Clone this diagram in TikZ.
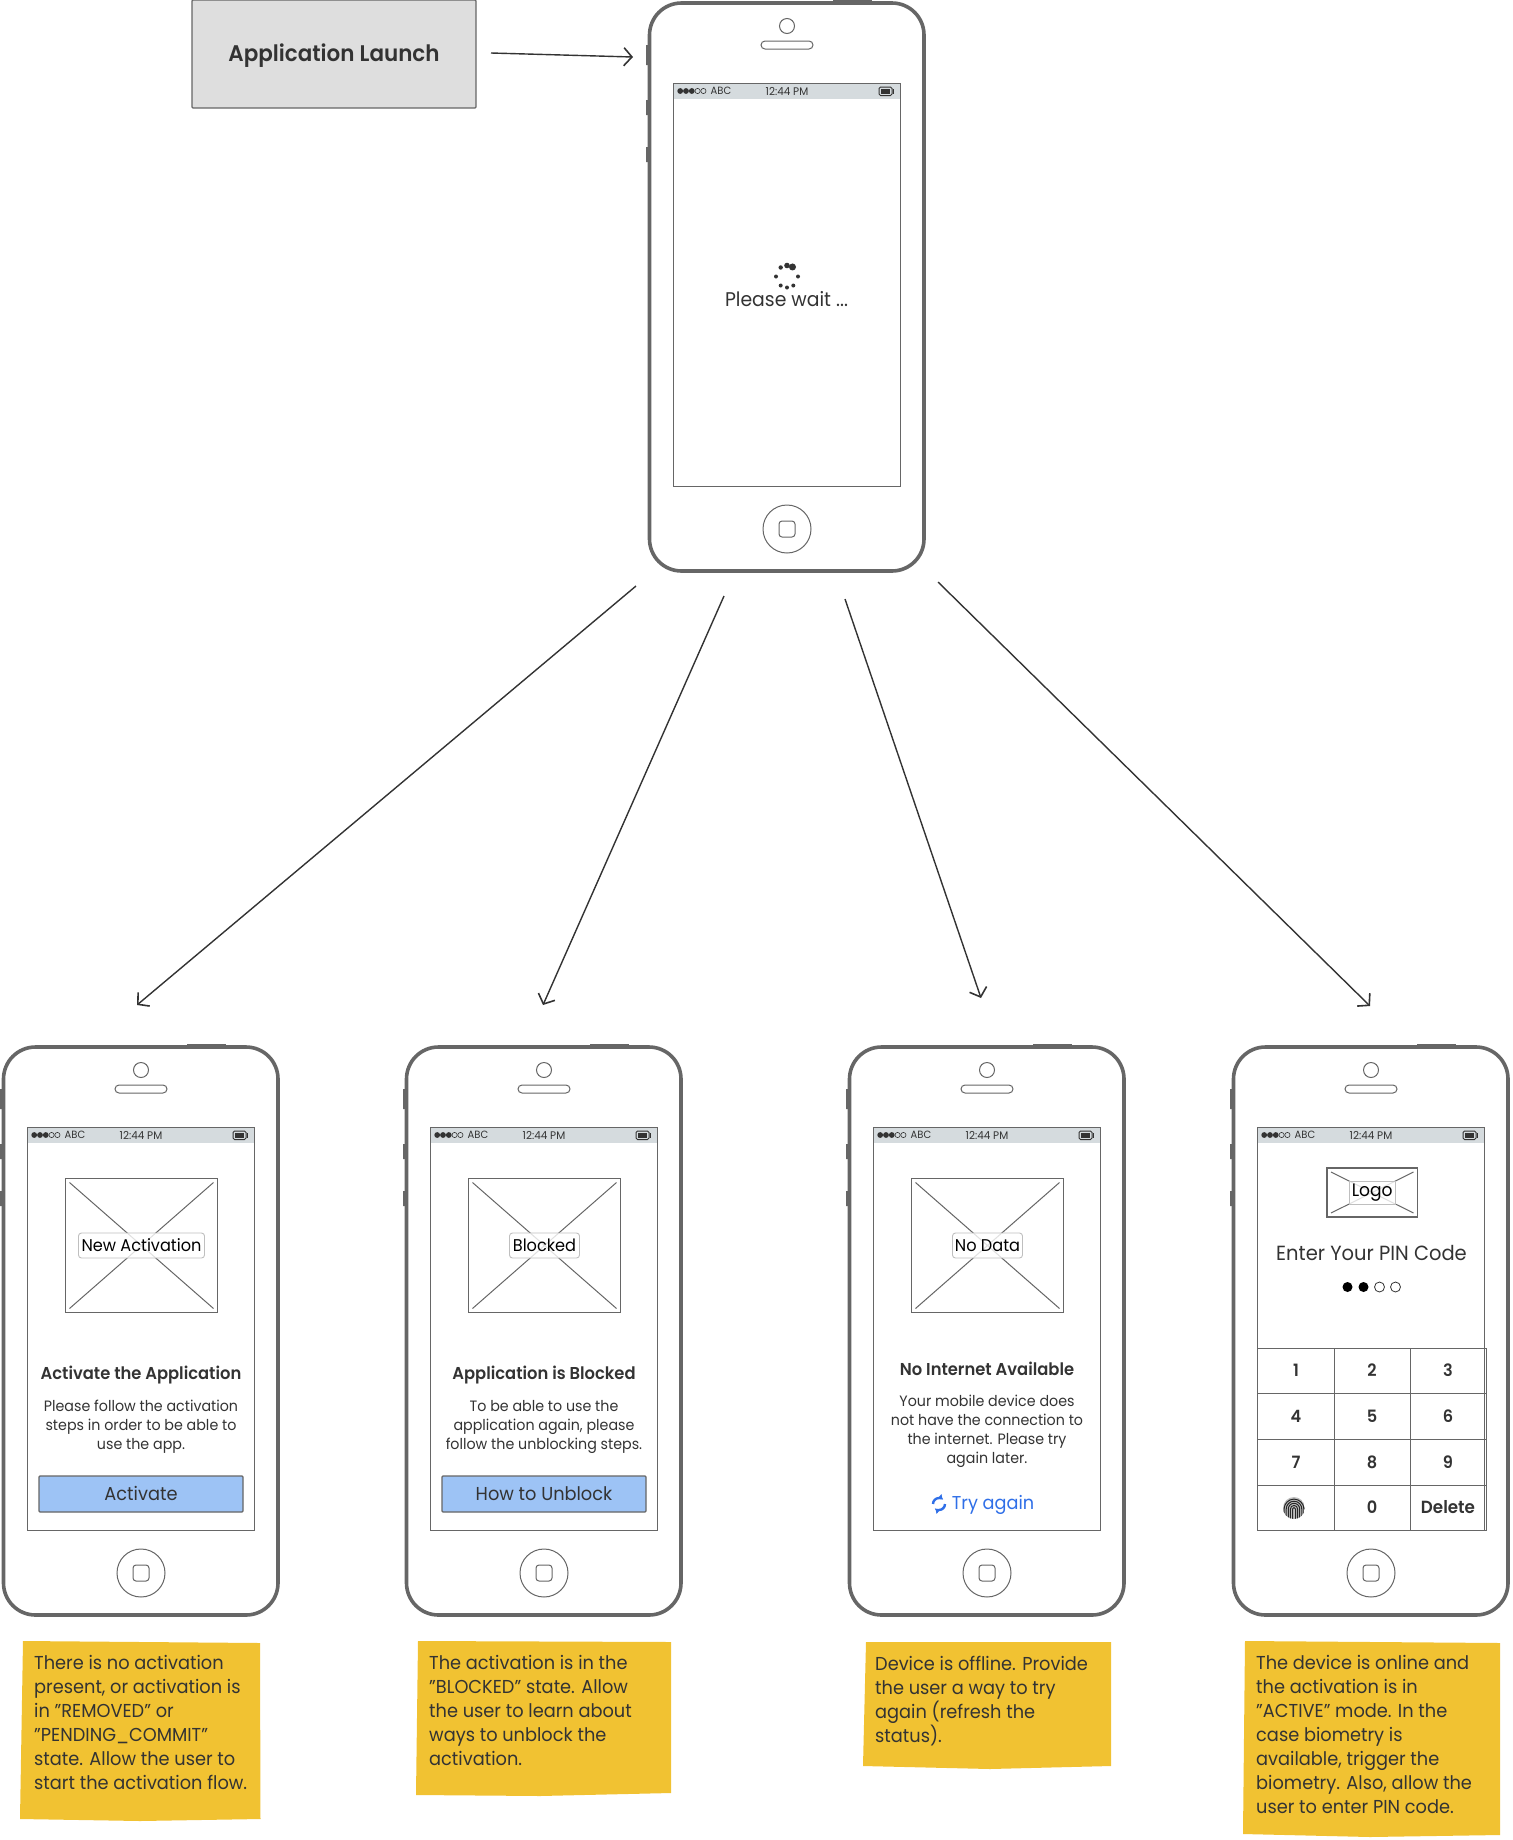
\documentclass[tikz,border=0pt]{standalone}
\usepackage{fontspec}
\setmainfont{Poppins}[FakeStretch=0.95,BoldFont={Poppins SemiBold},BoldFeatures={FakeStretch=0.95}]
\usetikzlibrary{arrows.meta}
\definecolor{frame}{HTML}{666666}
\definecolor{ink}{HTML}{333333}
\definecolor{statusbar}{HTML}{D5DBDE}
\definecolor{btnblue}{HTML}{9DC3F5}
\definecolor{sticky}{HTML}{F1C232}
\definecolor{linkblue}{HTML}{2F6FE8}
\newcommand{\fs}[2]{\fontsize{#1}{#2}\selectfont}
\tikzset{
  x=1pt,y=-1pt,
  phonebody/.style={draw=frame,line width=3.6pt,fill=white,rounded corners=32pt},
  thin line/.style={draw=frame,line width=1pt},
  flow/.style={draw=ink,line width=1.4pt,-{Straight Barb[length=8pt,width=18pt,line width=1.6pt]}},
  status/.style={text=ink,font=\fs{10.5}{12},inner sep=0pt},
  heading/.style={text=ink,font=\bfseries\fs{17.2}{19},inner sep=0pt,align=center},
  bodytext/.style={text=ink,font=\fs{15}{19},inner sep=0pt,align=center},
  notetext/.style={text=ink,font=\fs{18.7}{24},inner sep=0pt,align=left,anchor=north west},
  stickynote/.style={fill=sticky},
  phlabel/.style={fill=white,fill opacity=.8,text opacity=1,draw=black!25,line width=.9pt,rounded corners=3pt,text=black,font=\fs{17}{20},inner sep=0pt,minimum height=25pt},
  keytext/.style={text=ink,font=\bfseries\fs{17}{19},inner sep=0pt},
}
% phone: #1 name, #2 left, #3 top
\newcommand{\phone}[3]{%
  \begin{scope}[shift={(#2,#3)}]
    \fill[frame] (-3,42) rectangle (0,62) (-3,97) rectangle (0,112) (-3,144) rectangle (0,159);
    \fill[frame] (184,-3) rectangle (223,0);
    \path[phonebody] (0.5,0) rectangle (275,568);
    \draw[thin line] (138,23) circle (7.5);
    \draw[thin line,rounded corners=4pt] (112,38) rectangle (164,46);
    \fill[statusbar] (24.5,80) rectangle (251,96);
    \draw[thin line] (24.5,80) rectangle (251,483);
    \foreach \i in {0,1,2} \fill[ink] (31.2+\i*5.8,88) circle (2.9);
    \foreach \i in {3,4} \draw[ink,line width=.6pt] (31.2+\i*5.8,88) circle (2.6);
    \node[status] (#1abc) at (72,88) {ABC};
    \node[status,font=\fs{11}{12}] (#1time) at (138,88) {12:44 PM};
    \draw[ink,line width=1pt,rounded corners=1.5pt] (230,84) rectangle (243,92.5);
    \fill[ink] (231.8,85.6) rectangle (241.2,90.9);
    \draw[ink,line width=1pt] (244.5,86) -- (244.5,90.5);
    \draw[thin line] (138,526) circle (24);
    \draw[thin line,rounded corners=3pt] (130,518) rectangle (146,534);
  \end{scope}}
% image placeholder with label: #1 name, #2 left, #3 top, #4 right, #5 bottom, #6 label, #7 label style
\newcommand{\placeholder}[7]{%
  \draw[thin line,line width=1.1pt] (#2,#3) rectangle (#4,#5);
  \draw[thin line] (#2+4,#3+4) -- (#4-4,#5-4) (#4-4,#3+4) -- (#2+4,#5-4);
  \node[phlabel,#7] (#1) at ({(#2+#4)/2},{(#3+#5)/2}) {#6};}
\begin{document}
\begin{tikzpicture}
\useasboundingbox (0,0) rectangle (1513,1840);

% launch box
\node[draw=frame,line width=1.2pt,fill=black!13,rounded corners=1pt,minimum width=284pt,minimum height=108pt,inner sep=0pt] (launch) at (334,54) {};
\node[text=ink,font=\bfseries\fs{22.6}{24},inner sep=0pt] (launchtext) at (334,56) {Application Launch};

% phones
\phone{main}{649}{3}
\phone{pa}{3}{1047}
\phone{pb}{406}{1047}
\phone{pc}{849}{1047}
\phone{pd}{1233}{1047}

% spinner
\foreach \a/\r in {-60/3.5,-90/2.8,-125/2.2,-180/2,125/2,90/2,55/2,0/2}
  \fill[ink] (787,276.5) ++({\a}:11) circle (\r);
\node[text=ink,font=\fs{19.8}{22},inner sep=0pt] (wait) at (786.5,299) {Please wait ...};

% phone A
\placeholder{labA}{65.5}{1178.5}{217.5}{1312.5}{New Activation}{minimum width=126pt}
\node[heading] (titleA) at (141,1375.5) {Activate the Application};
\node[bodytext] (bodyA) at (141,1427) {Please follow the activation\\steps in order to be able to\\use the app.};
\node[draw=frame,line width=1.1pt,fill=btnblue,rounded corners=1pt,minimum width=204pt,minimum height=36pt,inner sep=0pt] (btnA) at (141,1494) {};
\node[text=ink,font=\fs{18.7}{22},inner sep=0pt] (btnAtext) at (141,1493) {Activate};

% phone B
\placeholder{labB}{468.5}{1178.5}{620.5}{1312.5}{Blocked}{minimum width=70pt}
\node[heading] (titleB) at (544,1375.5) {Application is Blocked};
\node[bodytext] (bodyB) at (544,1427) {To be able to use the\\application again, please\\follow the unblocking steps.};
\node[draw=frame,line width=1.1pt,fill=btnblue,rounded corners=1pt,minimum width=204pt,minimum height=36pt,inner sep=0pt,text=ink,font=\fs{18.7}{22}] (btnB) at (544,1494) {How to Unblock};

% phone C
\placeholder{labC}{911.5}{1178.5}{1063.5}{1312.5}{No Data}{minimum width=70pt}
\node[heading] (titleC) at (987,1369) {No Internet Available};
\node[bodytext] (bodyC) at (987,1431) {Your mobile device does\\not have the connection to\\the internet. Please try\\again later.};
\node[text=linkblue,font=\fs{18.6}{22},inner sep=0pt] (tryC) at (993,1505) {Try again};
\draw[linkblue,line width=2.4pt,-{Latex[length=4.5pt,width=7pt]}] (933,1504) arc (180:310:6);
\draw[linkblue,line width=2.4pt,-{Latex[length=4.5pt,width=7pt]}] (945,1504) arc (0:130:6);

% phone D
\placeholder{labD}{1327}{1168}{1417.5}{1217}{Logo}{minimum width=46pt,minimum height=23pt,rounded corners=0pt,font=\fs{18}{20}}
\node[text=ink,font=\fs{20.5}{22},inner sep=0pt] (pin) at (1371.5,1253) {Enter Your PIN Code};
\fill[black] (1347.5,1287) circle (5) (1363.5,1287) circle (5);
\draw[ink,line width=.8pt] (1379.5,1287) circle (5) (1395.5,1287) circle (5);
\draw[thin line] (1258,1348) -- (1486,1348) -- (1486,1530) -- (1258,1530)
  (1258,1393) -- (1486,1393) (1258,1439) -- (1486,1439) (1258,1485) -- (1486,1485)
  (1334,1348) -- (1334,1530) (1410,1348) -- (1410,1530);
\node[keytext] (k1) at (1296,1370) {1};
\node[keytext] (k2) at (1372,1370) {2};
\node[keytext] (k3) at (1448,1370) {3};
\node[keytext] (k4) at (1296,1416) {4};
\node[keytext] (k5) at (1372,1416) {5};
\node[keytext] (k6) at (1448,1416) {6};
\node[keytext] (k7) at (1296,1462) {7};
\node[keytext] (k8) at (1372,1462) {8};
\node[keytext] (k9) at (1448,1462) {9};
\node[keytext] (k0) at (1372,1507) {0};
\node[keytext,font=\bfseries\fs{17.6}{19}] (kdel) at (1448,1507) {Delete};
% fingerprint
\begin{scope}[shift={(1294,1508)}]
  \clip (0,0) circle (11);
  \fill[black!25] (0,0) circle (11);
  \foreach \r in {1.5,3.6,5.7,7.8,9.9}
    \draw[black!85,line width=1pt] (-\r,11) -- (-\r,1) arc (180:360:\r) -- (\r,11);
\end{scope}

% sticky notes
\fill[stickynote] (23,1641) -- (260,1643) -- (260.5,1819) -- (140,1821) -- (20,1819) -- cycle;
\node[notetext] (noteA) at (34,1655.5) {There is no activation\\present, or activation is\\in "REMOVED" or\\"PENDING\_COMMIT"\\state. Allow the user to\\start the activation flow.};
\fill[stickynote] (418,1641) -- (671,1642) -- (671,1793) -- (540,1796) -- (416,1795) -- cycle;
\node[notetext] (noteB) at (429,1655.5) {The activation is in the\\"BLOCKED" state. Allow\\the user to learn about\\ways to unblock the\\activation.};
\fill[stickynote] (866,1642) -- (1111,1642) -- (1111,1766) -- (990,1769) -- (863,1766) -- cycle;
\node[notetext] (noteC) at (875,1655.5) {Device is offline. Provide\\the user a way to try\\again (refresh the\\status).};
\fill[stickynote] (1245,1641) -- (1500,1643) -- (1500,1835) -- (1370,1837) -- (1243,1834) -- cycle;
\node[notetext] (noteD) at (1256,1655.5) {The device is online and\\the activation is in\\"ACTIVE" mode. In the\\case biometry is\\available, trigger the\\biometry. Also, allow the\\user to enter PIN code.};

% connectors
\coordinate (s0) at (491,53); \coordinate (e0) at (633,57);
\coordinate (s1) at (636,586); \coordinate (e1) at (137,1005);
\coordinate (s2) at (724,596); \coordinate (e2) at (543,1005);
\coordinate (s3) at (845,599); \coordinate (e3) at (981,998);
\coordinate (s4) at (938,582); \coordinate (e4) at (1370,1006);
\draw[flow] (s0) -- (e0);
\draw[flow] (s1) -- (e1);
\draw[flow] (s2) -- (e2);
\draw[flow] (s3) -- (e3);
\draw[flow] (s4) -- (e4);
\end{tikzpicture}
\end{document}
